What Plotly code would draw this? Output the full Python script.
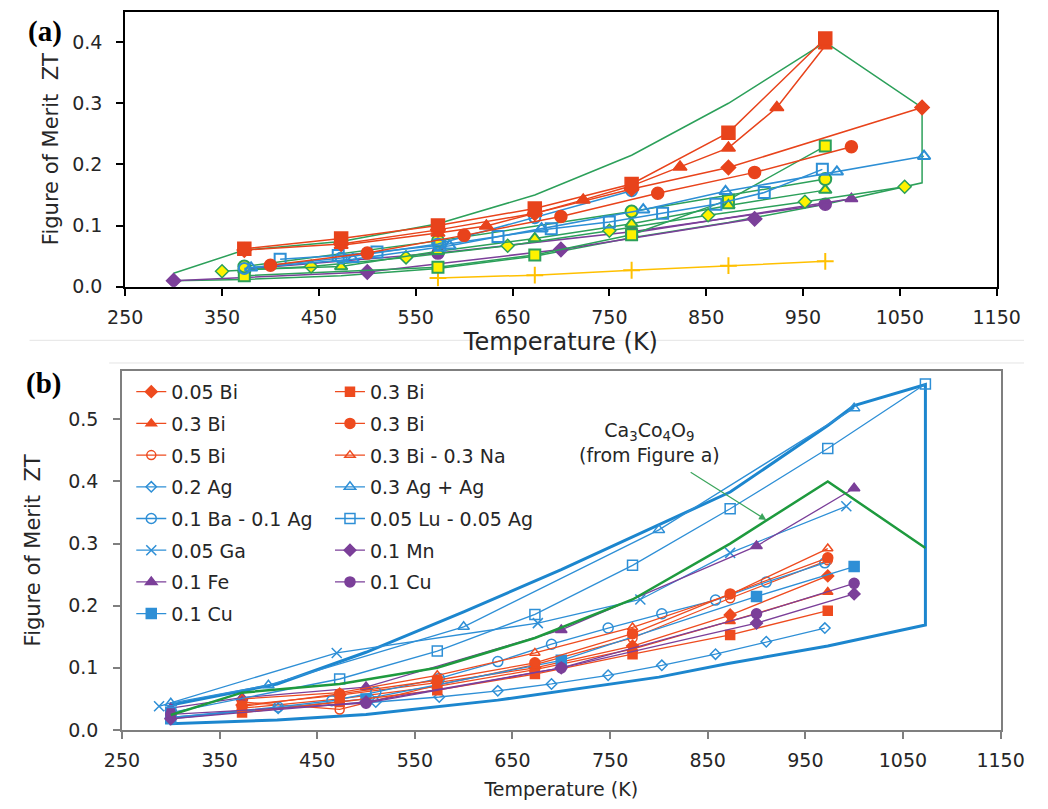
import plotly.graph_objects as go

# ---------------- Panel (a): Ca3Co4O9 based samples ----------------
RED = "#E8431B"
BLUE = "#2D8FD5"
PURPLE = "#7B3F99"
GREEN = "#2CA05A"
YELLOW = "#FFF200"
ORANGE = "#FFC000"

a_env_T = [300, 373, 473, 573, 673, 773, 873, 973, 1073, 1073, 973, 873, 773, 673, 573, 473, 373, 300, 300]
a_env_ZT = [0.022, 0.060, 0.074, 0.103, 0.150, 0.215, 0.300, 0.400, 0.293, 0.170, 0.135, 0.105, 0.080,
            0.050, 0.030, 0.018, 0.012, 0.010, 0.022]

a_red_sq_T = [373, 473, 573, 673, 773, 873, 973]
a_red_sq_ZT = [0.062, 0.079, 0.100, 0.128, 0.168, 0.252, 0.406]
a_red_tri_T = [473, 573, 623, 673, 723, 773, 823, 873, 923, 973]
a_red_tri_ZT = [0.068, 0.088, 0.0995, 0.120, 0.142, 0.165, 0.196, 0.227, 0.293, 0.394]
a_red_dia_T = [373, 473, 573, 673, 773, 873, 1073]
a_red_dia_ZT = [0.060, 0.070, 0.093, 0.120, 0.160, 0.195, 0.293]
a_red_cir_T = [400, 500, 600, 700, 800, 900, 1000]
a_red_cir_ZT = [0.035, 0.055, 0.084, 0.115, 0.153, 0.187, 0.229]

a_blue_cir_T = [373, 473, 573, 673, 773]
a_blue_cir_ZT = [0.030, 0.047, 0.070, 0.113, 0.157]
a_blue_sq_T = [410, 470, 510, 575, 635, 690, 750, 805, 860, 910, 970]
a_blue_sq_ZT = [0.045, 0.051, 0.057, 0.068, 0.082, 0.095, 0.106, 0.120, 0.135, 0.154, 0.192]
a_blue_tri_T = [380, 485, 585, 680, 785, 870, 985, 1075]
a_blue_tri_ZT = [0.031, 0.045, 0.067, 0.095, 0.126, 0.156, 0.188, 0.2135]

a_pur_dia_T = [300, 500, 700, 900]
a_pur_dia_ZT = [0.010, 0.024, 0.061, 0.111]
a_pur_cir_T = [373, 573, 773, 973]
a_pur_cir_ZT = [0.029, 0.055, 0.090, 0.135]
a_pur_tri_T = [773, 1000]
a_pur_tri_ZT = [0.088, 0.144]

a_yg_cir_T = [373, 573, 773, 973]
a_yg_cir_ZT = [0.033, 0.075, 0.123, 0.176]
a_yg_tri_T = [373, 473, 573, 673, 773, 873, 973]
a_yg_tri_ZT = [0.028, 0.033, 0.058, 0.079, 0.103, 0.133, 0.158]
a_yg_sq_T = [373, 573, 673, 773, 873, 973]
a_yg_sq_ZT = [0.018, 0.032, 0.052, 0.085, 0.142, 0.230]
a_yg_dia_T = [350, 442, 540, 645, 750, 852, 952, 1055]
a_yg_dia_ZT = [0.0253, 0.033, 0.048, 0.067, 0.0915, 0.117, 0.139, 0.1635]

a_plus_T = [573, 673, 773, 873, 973]
a_plus_ZT = [0.0145, 0.019, 0.027, 0.0345, 0.0415]

# ---------------- Panel (b): doped samples ----------------
B_RED = "#EE4B1F"
B_BLUE = "#2E8FD6"
B_ENV = "#1C86CE"
B_PURPLE = "#7B3F99"
B_GREEN = "#1E9A3E"

b_env_T = [300, 409, 500, 600, 700, 800, 873, 973, 1000, 1073, 1073, 973, 871, 800, 700, 635, 500, 409, 300, 300]
b_env_ZT = [0.040, 0.074, 0.125, 0.190, 0.258, 0.330, 0.383, 0.490, 0.522, 0.556, 0.169, 0.135, 0.107,
            0.085, 0.062, 0.048, 0.025, 0.016, 0.010, 0.040]

b_green_T = [300, 373, 473, 573, 673, 773, 873, 973, 1073]
b_green_ZT = [0.024, 0.060, 0.074, 0.100, 0.148, 0.210, 0.300, 0.400, 0.293]

bi_T = [373, 473, 573, 673, 773, 873, 973]
b_bi005_dia = [0.040, 0.056, 0.076, 0.100, 0.135, 0.185, 0.248]
b_bi03_sq = [0.028, 0.045, 0.064, 0.090, 0.122, 0.153, 0.192]
b_bi03_tri = [0.035, 0.050, 0.070, 0.097, 0.130, 0.175, 0.222]
b_bi03_cir = [0.038, 0.058, 0.080, 0.108, 0.155, 0.219, 0.277]
b_bi05_ocir = [0.045, 0.033, 0.072, 0.105, 0.148, 0.212, 0.273]
b_bina_otri = [0.050, 0.060, 0.088, 0.124, 0.165, 0.218, 0.292]

b_ag02_T = [300, 410, 510, 575, 635, 690, 748, 803, 858, 910, 970]
b_ag02_ZT = [0.020, 0.035, 0.045, 0.053, 0.063, 0.074, 0.088, 0.104, 0.122, 0.142, 0.164]
b_ag03_T = [300, 400, 600, 800, 1000]
b_ag03_ZT = [0.043, 0.072, 0.166, 0.322, 0.518]
b_baag_T = [300, 410, 465, 510, 575, 635, 690, 748, 803, 858, 910, 970]
b_baag_ZT = [0.020, 0.037, 0.047, 0.061, 0.083, 0.110, 0.138, 0.164, 0.187, 0.209, 0.238, 0.269]
b_luag_T = [300, 473, 573, 673, 773, 873, 973, 1073]
b_luag_ZT = [0.028, 0.082, 0.127, 0.186, 0.265, 0.356, 0.453, 0.557]
b_ga_T = [288, 470, 676, 781, 873, 992]
b_ga_ZT = [0.038, 0.124, 0.172, 0.210, 0.285, 0.360]
b_cu_blue_T = [300, 500, 700, 900, 1000]
b_cu_blue_ZT = [0.018, 0.050, 0.112, 0.215, 0.263]

b_mn_T = [300, 500, 700, 900, 1000]
b_mn_ZT = [0.018, 0.045, 0.100, 0.172, 0.219]
b_fe_T = [300, 373, 500, 700, 900, 1000]
b_fe_ZT = [0.035, 0.052, 0.069, 0.161, 0.296, 0.389]
b_cu_pur_T = [300, 500, 700, 900, 1000]
b_cu_pur_ZT = [0.025, 0.043, 0.100, 0.187, 0.236]

FONT = "DejaVu Sans"
TXT = "#262626"

fig = go.Figure()


def add_a(T, ZT, color, symbol, size, fill=None, edge=None, width=1.5, edgew=1.5):
    fig.add_trace(go.Scatter(
        x=T, y=ZT, mode="lines+markers", xaxis="x", yaxis="y", showlegend=False,
        line=dict(color=color, width=width),
        marker=dict(symbol=symbol, size=size, color=fill or color,
                    line=dict(color=edge or color, width=edgew)),
        hoverinfo="x+y"))


# envelope of panel (a)
fig.add_trace(go.Scatter(x=a_env_T, y=a_env_ZT, mode="lines", xaxis="x", yaxis="y",
                         showlegend=False, line=dict(color=GREEN, width=1.5)))

add_a(a_plus_T, a_plus_ZT, ORANGE, "cross-thin-open", 12, edgew=2)
add_a(a_pur_dia_T, a_pur_dia_ZT, PURPLE, "diamond", 11)
add_a(a_pur_cir_T, a_pur_cir_ZT, PURPLE, "circle", 12)
add_a(a_pur_tri_T, a_pur_tri_ZT, PURPLE, "triangle-up", 11)
add_a(a_yg_dia_T, a_yg_dia_ZT, GREEN, "diamond", 10, fill=YELLOW, edge=GREEN, edgew=1.5)
add_a(a_yg_sq_T, a_yg_sq_ZT, GREEN, "square", 11, fill=YELLOW, edge=GREEN, edgew=2)
add_a(a_yg_tri_T, a_yg_tri_ZT, GREEN, "triangle-up", 11, fill=YELLOW, edge=GREEN, edgew=2)
add_a(a_yg_cir_T, a_yg_cir_ZT, GREEN, "circle", 12, fill=YELLOW, edge=GREEN, edgew=2)
add_a(a_blue_tri_T, a_blue_tri_ZT, BLUE, "triangle-up-open", 11, edgew=2)
add_a(a_blue_sq_T, a_blue_sq_ZT, BLUE, "square-open", 11, edgew=2)
add_a(a_blue_cir_T, a_blue_cir_ZT, BLUE, "circle-open", 11, edgew=2)
add_a(a_red_cir_T, a_red_cir_ZT, RED, "circle", 12)
add_a(a_red_dia_T, a_red_dia_ZT, RED, "diamond", 11)
add_a(a_red_tri_T, a_red_tri_ZT, RED, "triangle-up", 12)
add_a(a_red_sq_T, a_red_sq_ZT, RED, "square", 13)

# envelope of panel (b)
fig.add_trace(go.Scatter(x=b_env_T, y=b_env_ZT, mode="lines", xaxis="x2", yaxis="y2",
                         showlegend=False, line=dict(color=B_ENV, width=3)))


def add_b(T, ZT, name, color, symbol, size, legend, group, width=1.3):
    fig.add_trace(go.Scatter(
        x=T, y=ZT, mode="lines+markers", name=name, xaxis="x2", yaxis="y2",
        legend=legend, legendgroup=group,
        line=dict(color=color, width=width),
        marker=dict(symbol=symbol, size=size, color=color, line=dict(color=color, width=1.5))))


# left legend column
add_b(bi_T, b_bi005_dia, "0.05 Bi", B_RED, "diamond", 9, "legend", "g1")
add_b(bi_T, b_bi03_tri, "0.3 Bi", B_RED, "triangle-up", 9, "legend", "g2")
add_b(bi_T, b_bi05_ocir, "0.5 Bi", B_RED, "circle-open", 9, "legend", "g3")
add_b(b_ag02_T, b_ag02_ZT, "0.2 Ag", B_BLUE, "diamond-open", 8, "legend", "g4")
add_b(b_baag_T, b_baag_ZT, "0.1 Ba - 0.1 Ag", B_BLUE, "circle-open", 10, "legend", "g5")
add_b(b_ga_T, b_ga_ZT, "0.05 Ga", B_BLUE, "x-thin-open", 10, "legend", "g6")
add_b(b_fe_T, b_fe_ZT, "0.1 Fe", B_PURPLE, "triangle-up", 10, "legend", "g7")
add_b(b_cu_blue_T, b_cu_blue_ZT, "0.1 Cu", B_BLUE, "square", 10, "legend", "g8")
# right legend column
add_b(bi_T, b_bi03_sq, "0.3 Bi", B_RED, "square", 9, "legend2", "h1")
add_b(bi_T, b_bi03_cir, "0.3 Bi", B_RED, "circle", 10, "legend2", "h2")
add_b(bi_T, b_bina_otri, "0.3 Bi - 0.3 Na", B_RED, "triangle-up-open", 9, "legend2", "h3")
add_b(b_ag03_T, b_ag03_ZT, "0.3 Ag + Ag", B_BLUE, "triangle-up-open", 10, "legend2", "h4")
add_b(b_luag_T, b_luag_ZT, "0.05 Lu - 0.05 Ag", B_BLUE, "square-open", 10, "legend2", "h5")
add_b(b_mn_T, b_mn_ZT, "0.1 Mn", B_PURPLE, "diamond", 9, "legend2", "h6")
add_b(b_cu_pur_T, b_cu_pur_ZT, "0.1 Cu", B_PURPLE, "circle", 10, "legend2", "h7")

# Ca3Co4O9 reference curve in panel (b)
fig.add_trace(go.Scatter(x=b_green_T, y=b_green_ZT, mode="lines", xaxis="x2", yaxis="y2",
                         showlegend=False, line=dict(color=B_GREEN, width=2.5)))

W, H = 1048, 809


def px_x(p):
    return p / W


def px_y(p):
    return 1 - p / H


common_x = dict(tick0=250, dtick=100, showgrid=False, zeroline=False, showline=True,
                mirror=True, ticks="outside", ticklen=7, range=[250, 1150])
common_y = dict(showgrid=False, zeroline=False, showline=True, mirror=True, ticks="outside",
                ticklen=7)

fig.update_layout(
    width=W, height=H, margin=dict(l=0, r=0, t=0, b=0),
    paper_bgcolor="white", plot_bgcolor="white",
    font=dict(family=FONT, color=TXT),
    xaxis=dict(common_x, domain=[px_x(111.7), px_x(1019.5)], anchor="y",
               linecolor="black", linewidth=2, tickcolor="black", tickwidth=2,
               tickfont=dict(family=FONT, size=19, color=TXT), ticklabelstandoff=5,
               title=dict(text="Temperature (K)", font=dict(family=FONT, size=24, color=TXT),
                          standoff=0)),
    yaxis=dict(common_y, range=[0, 0.45], domain=[px_y(290.7), px_y(11.7)], anchor="x",
               tickvals=[0, 0.1, 0.2, 0.3, 0.4], ticktext=["0.0", "0.1", "0.2", "0.3", "0.4"],
               linecolor="black", linewidth=2, tickcolor="black", tickwidth=2,
               tickfont=dict(family=FONT, size=19, color=TXT), ticklabelstandoff=10,
               title=dict(text="Figure of Merit  ZT", font=dict(family=FONT, size=21, color=TXT),
                          standoff=8)),
    xaxis2=dict(common_x, domain=[px_x(108.3), px_x(1023.6)], anchor="y2",
                linecolor="#7f7f7f", linewidth=1.5, tickcolor="#7f7f7f", tickwidth=1.5,
                tickfont=dict(family=FONT, size=19, color=TXT), ticklabelstandoff=6,
                title=dict(text="Temperature (K)", font=dict(family=FONT, size=19, color=TXT),
                           standoff=12)),
    yaxis2=dict(common_y, range=[0, 0.578], domain=[px_y(740), px_y(376)], anchor="x2",
                tickvals=[0, 0.1, 0.2, 0.3, 0.4, 0.5],
                ticktext=["0.0", "0.1", "0.2", "0.3", "0.4", "0.5"],
                linecolor="#7f7f7f", linewidth=1.5, tickcolor="#7f7f7f", tickwidth=1.5,
                tickfont=dict(family=FONT, size=19, color=TXT), ticklabelstandoff=11,
                title=dict(text="Figure of Merit  ZT", font=dict(family=FONT, size=21, color=TXT),
                           standoff=22)),
    legend=dict(x=px_x(118), y=px_y(378), xanchor="left", yanchor="top",
                bgcolor="rgba(0,0,0,0)", font=dict(family=FONT, size=19, color=TXT),
                traceorder="grouped", tracegroupgap=4, itemsizing="trace"),
    legend2=dict(x=px_x(325), y=px_y(378), xanchor="left", yanchor="top",
                 bgcolor="rgba(0,0,0,0)", font=dict(family=FONT, size=19, color=TXT),
                 traceorder="grouped", tracegroupgap=4, itemsizing="trace"),
    annotations=[
        dict(text="<b>(a)</b>", xref="paper", yref="paper", x=px_x(8), y=px_y(13),
             xanchor="left", yanchor="top", showarrow=False,
             font=dict(family="Liberation Serif", size=29, color="black")),
        dict(text="<b>(b)</b>", xref="paper", yref="paper", x=px_x(6), y=px_y(370),
             xanchor="left", yanchor="top", showarrow=False,
             font=dict(family="Liberation Serif", size=29, color="black")),
        dict(text="Ca<sub>3</sub>Co<sub>4</sub>O<sub>9</sub><br>(from Figure a)",
             xref="x2", yref="y2", x=790, y=0.462, showarrow=False,
             font=dict(family=FONT, size=19, color=TXT), align="center"),
        dict(text="", xref="x2", yref="y2", x=910, y=0.338, axref="x2", ayref="y2",
             ax=831, ay=0.4165, showarrow=True, arrowhead=2, arrowsize=1.2, arrowwidth=1.2,
             arrowcolor="#3BA55C"),
    ],
    shapes=[
        dict(type="line", xref="paper", yref="paper", x0=px_x(12), x1=1, y0=px_y(345),
             y1=px_y(345), line=dict(color="#e4e4e4", width=1)),
        dict(type="line", xref="paper", yref="paper", x0=px_x(95), x1=1, y0=px_y(368),
             y1=px_y(368), line=dict(color="#e4e4e4", width=1)),
    ],
)

fig.write_html("out.html")
